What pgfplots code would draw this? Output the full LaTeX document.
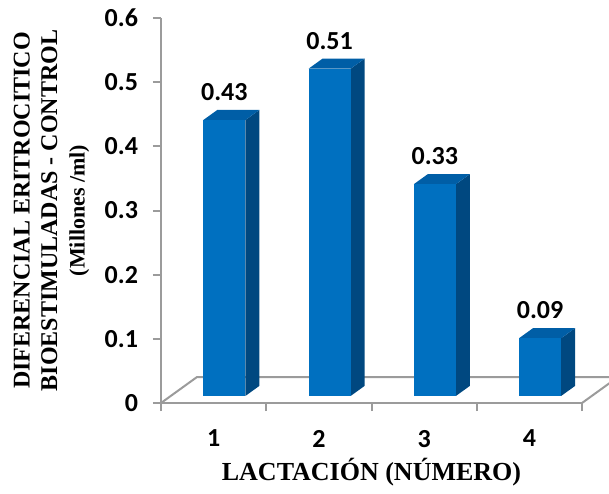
\documentclass[border=0pt]{standalone}
\usepackage{pgfplots}
\pgfplotsset{compat=1.18}
\usepackage{fontspec}
\setmainfont{Carlito}
\newfontfamily\tnr{Liberation Serif}
\definecolor{barfront}{RGB}{0,112,192}
\definecolor{bartop}{RGB}{0,94,166}
\definecolor{barside}{RGB}{0,72,128}
\definecolor{axgray}{RGB}{155,155,155}
% #1 = category position, #2 = value
\newcommand\tdbar[2]{%
 \pgfmathsetmacro\bL{#1-0.098}%
 \pgfmathsetmacro\bR{#1+0.302}%
 \pgfmathsetmacro\bRD{#1+0.435}%
 \pgfmathsetmacro\bLD{#1+0.035}%
 \pgfmathsetmacro\bT{#2+0.011}%
 \pgfmathsetmacro\bTD{#2+0.0267}%
 \pgfmathsetmacro\bLab{#1+0.102}%
 \edef\doit{%
  \noexpand\addplot[fill=barside,draw=none] coordinates {(\bR,0.011) (\bRD,0.0267) (\bRD,\bTD) (\bR,\bT)};
  \noexpand\addplot[fill=bartop,draw=none] coordinates {(\bL,\bT) (\bLD,\bTD) (\bRD,\bTD) (\bR,\bT)};
  \noexpand\addplot[fill=barfront,draw=none] coordinates {(\bL,0.011) (\bR,0.011) (\bR,\bT) (\bL,\bT)};
  \noexpand\node[anchor=south,inner sep=0pt,yshift=4.5pt,font=\noexpand\fontsize{13}{15}\noexpand\selectfont\noexpand\bfseries] at (axis cs:\bLab,\bTD) {#2};
 }\doit}
\begin{document}
\begin{tikzpicture}
\begin{axis}[
  name=ax,
  scale only axis,
  width=210.5pt, height=192.5pt,
  xmin=0.5, xmax=4.5, ymin=0, ymax=0.6,
  clip=false,
  axis lines*=left,
  axis line style={axgray, line width=1pt},
  tick align=outside,
  xtick={1,2,3,4},
  xticklabels={1,2,3,4},
  major x tick style={draw=none},
  minor xtick={0.5,1.5,2.5,3.5,4.5},
  minor x tick style={axgray, line width=1pt},
  minor tick length=4pt,
  ytick={0,0.1,0.2,0.3,0.4,0.5,0.6},
  major y tick style={axgray, line width=1pt},
  major tick length=4pt,
  /pgf/number format/assume math mode=true,
  /pgf/number format/fixed,
  /pgf/number format/precision=1,
  ticklabel style={font=\fontsize{13}{15}\selectfont\bfseries},
  xticklabel style={yshift=-6pt},
  yticklabel style={xshift=-4pt},
  xlabel={LACTACIÓN (NÚMERO)},
  xlabel style={font=\tnr\fontsize{13}{15}\selectfont\bfseries, at={(axis description cs:0.5,0)}, anchor=base, yshift=-38.5pt},
  ylabel={DIFERENCIAL ERITROCITICO\\BIOESTIMULADAS - CONTROL\\{\fontsize{11}{13.75}\selectfont(Millones /ml)}},
  ylabel style={font=\tnr\fontsize{12}{13.75}\selectfont\bfseries, align=center, at={(axis description cs:0,0.5)}, anchor=center, yshift=54.75pt},
]
% floor
\addplot[axgray, line width=1pt] coordinates {(0.5,0) (0.842,0.0405) (4.842,0.0405)};
\addplot[axgray, line width=1pt] coordinates {(4.5,0) (4.842,0.0405)};
% bars
\tdbar{1}{0.43}
\tdbar{2}{0.51}
\tdbar{3}{0.33}
\tdbar{4}{0.09}
\end{axis}
\pgfresetboundingbox
\path ([shift={(-80.5pt,-45pt)}]ax.south west) rectangle ([shift={(13.5pt,9pt)}]ax.north east);
\end{tikzpicture}
\end{document}
